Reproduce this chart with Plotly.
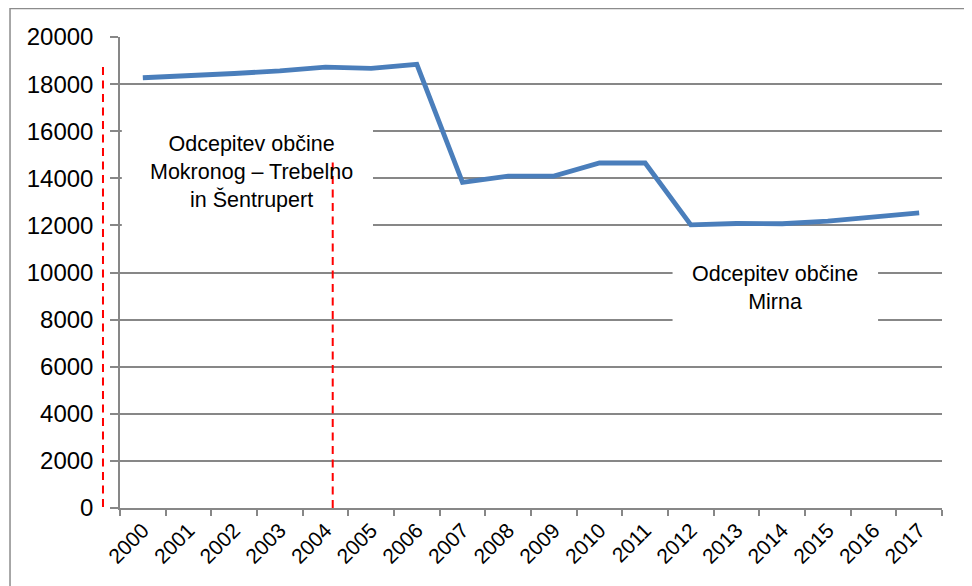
import plotly.graph_objects as go

years = [str(y) for y in range(2000, 2018)]
values = [18270, 18340, 18450, 18560, 18720, 18670, 18840, 13830, 14090, 14090,
          14650, 14650, 12020, 12080, 12070, 12180, 12360, 12530]
y_ticks = list(range(0, 20001, 2000))
note1 = "Odcepitev občine<br>Mokronog – Trebelno<br>in Šentrupert"
note2 = "Odcepitev občine<br>Mirna"

GRID = "#878787"
FONT = "Liberation Sans, Arial, sans-serif"
fig = go.Figure()
fig.add_trace(go.Scatter(
    x=years, y=values, mode="lines",
    line=dict(color="#4A7EBB", width=4.8),
    hoverinfo="skip", showlegend=False,
))

shapes = [
    # white boxes behind annotation text (hide gridlines)
    dict(type="rect", xref="x", yref="y", x0=-0.46, x1=5.04, y0=11700, y1=16800,
         fillcolor="white", line=dict(width=0), layer="above"),
    dict(type="rect", xref="x", yref="y", x0=11.60, x1=16.10, y0=7000, y1=11100,
         fillcolor="white", line=dict(width=0), layer="above"),
    # red dashed lines
    dict(type="line", xref="paper", yref="paper", x0=-0.0207, x1=-0.0207, y0=0.002, y1=0.9406,
         line=dict(color="#FF0000", width=2, dash="8px,5.5px"), layer="above"),
    dict(type="line", xref="x", yref="y", x0=4.158, x1=4.158, y0=0, y1=14720,
         line=dict(color="#FF0000", width=2, dash="8px,5.5px"), layer="above"),
    # outer chart border
    dict(type="rect", xref="paper", yref="paper", x0=-0.1338, x1=1.0316, y0=-0.2, y1=1.0605,
         fillcolor="rgba(0,0,0,0)", line=dict(color="#8C8C8C", width=1.5), layer="above"),
]

annotations = [
    dict(x=2.385, y=14270, xref="x", yref="y", text=note1, showarrow=False,
         xanchor="center", yanchor="middle", align="center",
         font=dict(family=FONT, size=21.5, color="#000000")),
    dict(x=13.85, y=9363, xref="x", yref="y", text=note2, showarrow=False,
         xanchor="center", yanchor="middle", align="center",
         font=dict(family=FONT, size=21.5, color="#000000")),
]

# page places the figure 8px from the top-left corner, so the figure is sized to fit
fig.update_layout(
    width=964, height=578,
    margin=dict(l=112, r=30, t=29, b=78),
    paper_bgcolor="white", plot_bgcolor="white",
    shapes=shapes, annotations=annotations,
    showlegend=False,
    xaxis=dict(
        type="category", categoryorder="array", categoryarray=years,
        range=[-0.5, 17.5], tickson="boundaries", automargin=False,
        showline=True, linecolor=GRID, linewidth=1.5,
        ticks="outside", ticklen=6, tickwidth=1.5, tickcolor=GRID,
        showgrid=False, tickangle=-45,
        tickfont=dict(family=FONT, size=21, color="#000000"),
    ),
    yaxis=dict(
        range=[0, 20000], tickvals=y_ticks, ticktext=[str(v) for v in y_ticks],
        automargin=False,
        showline=True, linecolor=GRID, linewidth=1.5,
        ticks="outside", ticklen=8, tickwidth=1.5, tickcolor=GRID,
        showgrid=True, gridcolor=GRID, gridwidth=1.5,
        zeroline=False, ticklabelstandoff=12,
        tickfont=dict(family=FONT, size=24, color="#000000"),
    ),
)

fig.write_html("out.html")
